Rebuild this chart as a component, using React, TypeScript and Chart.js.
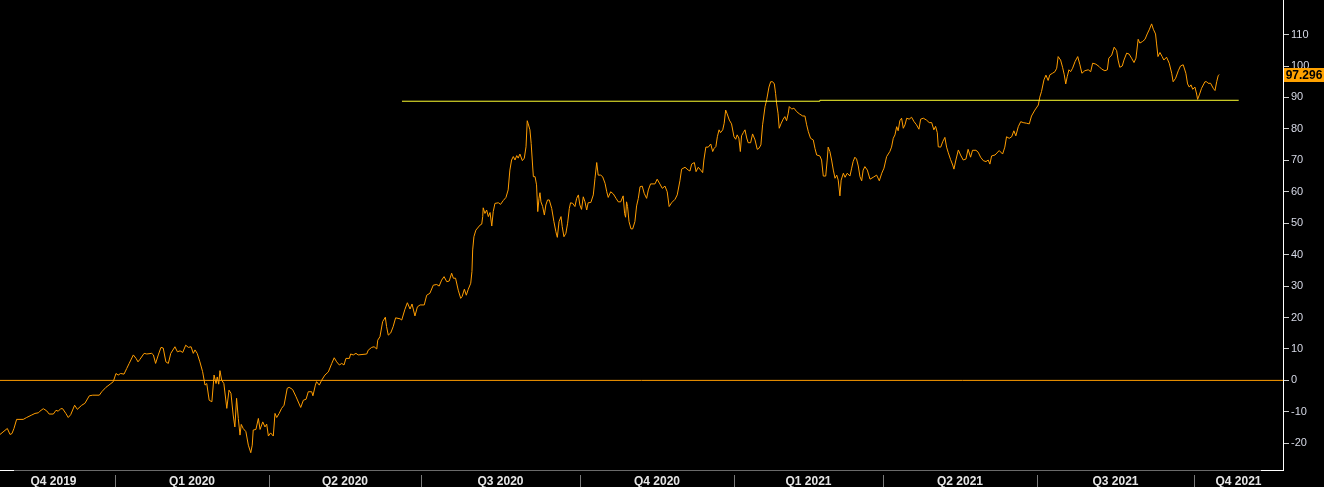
import React, { useEffect, useRef } from "react";
import { Chart, registerables } from "chart.js";

Chart.register(...registerables);

// Trading-day offset from the first observation (late Oct 2019)
const tradingDays = [
  0.0, 2.5, 3.0, 4.1, 4.9, 5.7, 6.8, 9.5, 10.9, 13.0, 14.3, 15.7, 16.3, 17.7, 19.1, 20.1, 21.8, 22.9, 23.8, 24.8,
  25.6, 26.9, 27.9, 28.9, 30.5, 31.6, 33.4, 34.7, 36.5, 37.9, 40.6, 41.6, 43.3, 45.0, 46.3, 47.4, 48.3, 49.3, 50.7, 51.8,
  52.8, 54.5, 55.6, 56.4, 57.2, 58.9, 60.0, 62.0, 62.7, 63.6, 64.7, 65.8, 66.7, 67.8, 68.8, 69.8, 71.5, 72.5, 73.6, 74.7,
  75.9, 77.0, 78.1, 79.0, 79.7, 80.6, 81.7, 82.8, 83.8, 84.5, 85.5, 86.6, 87.5, 88.3, 88.8, 89.4, 89.9, 90.6, 91.5, 92.7,
  93.6, 94.4, 95.3, 96.0, 96.7, 97.4, 98.1, 98.6, 99.4, 100.5, 101.5, 102.5, 103.1, 103.5, 104.6, 105.6, 106.3, 107.4, 108.3, 109.0,
  109.7, 110.6, 111.7, 112.4, 113.1, 114.1, 115.1, 116.1, 117.4, 118.2, 119.6, 121.0, 122.9, 124.0, 125.1, 126.0, 127.4, 127.9, 128.9, 129.4,
  130.5, 131.5, 132.8, 134.2, 135.6, 136.6, 137.6, 138.7, 139.7, 140.6, 141.4, 142.8, 143.3, 144.4, 145.5, 146.4, 149.9, 150.5, 151.9, 152.9,
  154.0, 154.4, 155.3, 156.4, 157.5, 158.0, 158.7, 159.7, 160.7, 161.7, 163.5, 164.2, 165.5, 166.5, 167.6, 168.4, 169.6, 170.6, 171.7, 173.4,
  174.4, 175.7, 177.1, 178.5, 179.5, 180.5, 181.5, 182.6, 183.6, 184.6, 185.3, 186.2, 187.3, 188.3, 188.9, 189.8, 190.6, 191.4, 192.4, 192.9,
  193.2, 193.7, 194.5, 196.2, 196.9, 197.3, 197.5, 198.2, 198.9, 199.6, 200.3, 201.0, 201.6, 202.3, 203.7, 204.6, 205.7, 206.8, 207.7, 208.4,
  209.1, 209.8, 210.5, 211.2, 211.8, 212.5, 213.5, 214.3, 215.0, 215.5, 215.9, 216.6, 217.1, 217.7, 218.0, 218.7, 219.3, 219.8, 220.3, 220.7,
  221.1, 221.8, 222.5, 223.1, 223.8, 224.5, 225.5, 226.4, 227.2, 227.8, 228.5, 229.3, 229.8, 230.5, 231.3, 232.0, 232.7, 233.2, 234.1, 235.0,
  235.7, 236.4, 237.0, 237.7, 238.4, 239.1, 239.8, 240.4, 241.5, 242.5, 243.2, 243.9, 244.5, 245.5, 246.3, 247.3, 248.0, 248.6, 249.6, 250.7,
  251.8, 252.7, 253.7, 254.7, 255.3, 255.7, 256.1, 256.5, 257.1, 257.9, 258.6, 259.5, 260.2, 260.9, 261.6, 262.5, 263.3, 264.3, 265.0, 265.9,
  267.7, 268.6, 269.7, 270.7, 271.8, 272.7, 273.5, 274.5, 275.9, 276.8, 277.9, 278.6, 280.0, 281.3, 282.0, 282.7, 283.8, 284.5, 285.4, 286.4,
  287.2, 287.7, 288.5, 289.5, 290.5, 291.3, 291.9, 292.6, 293.2, 293.9, 294.5, 295.4, 296.0, 296.6, 297.2, 298.1, 299.0, 300.0, 300.7, 301.3,
  302.0, 302.6, 303.1, 303.8, 304.5, 305.2, 305.8, 306.8, 307.6, 308.6, 309.5, 310.2, 311.0, 311.7, 312.7, 313.4, 314.3, 315.0, 315.8, 316.5,
  317.0, 317.4, 318.0, 318.5, 319.2, 320.1, 320.8, 321.5, 322.2, 322.6, 323.6, 324.5, 325.6, 326.7, 328.1, 329.0, 329.7, 330.4, 331.3, 332.4,
  333.1, 333.8, 335.1, 335.8, 336.5, 337.5, 338.1, 338.5, 339.2, 339.9, 340.6, 341.3, 342.0, 342.6, 343.3, 343.8, 344.7, 345.4, 346.3, 347.4,
  348.1, 348.7, 349.4, 350.1, 350.8, 351.5, 352.2, 352.8, 353.5, 354.5, 355.6, 356.9, 358.3, 359.4, 360.4, 361.3, 362.4, 363.7, 364.4, 365.1,
  365.8, 366.5, 367.1, 367.8, 368.5, 369.2, 369.9, 370.6, 371.6, 372.6, 373.6, 374.6, 375.6, 376.3, 377.4, 378.7, 379.8, 380.8, 381.7, 382.4,
  383.1, 383.5, 384.5, 385.3, 386.2, 386.9, 387.6, 388.5, 389.4, 389.9, 390.7, 391.7, 392.6, 393.7, 394.8, 395.7, 396.7, 397.5, 398.9, 399.8,
  400.8, 401.9, 403.0, 403.9, 404.6, 405.3, 406.7, 408.4, 409.8, 410.7, 411.4, 412.5, 413.5, 414.4, 415.2, 416.2, 417.2, 418.2, 419.6, 420.7,
  421.6, 423.0, 424.4, 425.0, 425.7, 426.7, 427.5, 428.4, 429.1, 430.2, 431.2, 431.9, 432.5, 433.5, 434.3, 435.0, 435.6, 436.2, 436.9, 437.6,
  438.4, 439.4, 440.5, 441.4, 442.2, 443.4, 444.8, 445.8, 446.6, 447.9, 449.3, 450.3, 451.6, 452.6, 453.2, 454.4, 455.4, 456.4, 457.0, 457.7,
  458.7, 459.4, 460.5, 461.5, 462.5, 463.5, 464.3, 465.2, 465.9, 467.0, 468.0, 468.9, 469.7, 470.7, 471.4, 472.3, 472.7, 473.3, 474.1, 475.0,
  475.7, 476.8, 477.9, 478.9, 479.5, 480.5, 481.6, 482.5, 483.6, 484.7, 485.4, 486.1, 486.8, 487.5, 488.4, 489.1, 489.5, 490.2, 491.1, 492.5,
  493.2, 493.8, 494.8, 495.9, 496.6, 497.3, 497.9, 498.3,
];

const indexValues = [
  -17.2, -15.6, -15.3, -17.2, -16.9, -15.3, -12.4, -12.4, -11.8, -11.0, -10.5, -10.3, -9.8, -9.0, -9.7, -10.7, -10.7, -9.5, -9.8, -9.0,
  -9.0, -10.5, -11.8, -10.9, -7.9, -9.2, -7.9, -7.3, -4.9, -4.7, -4.7, -3.6, -2.2, -1.2, -0.4, 2.2, 1.7, 2.2, 2.0, 3.8,
  5.4, 8.1, 7.0, 5.9, 6.7, 8.6, 8.4, 8.6, 8.1, 5.4, 8.1, 10.5, 10.3, 5.9, 5.4, 8.6, 10.7, 9.1, 9.4, 8.9,
  11.2, 10.5, 10.7, 8.6, 9.7, 8.6, 5.9, 2.8, -1.5, -1.0, -6.3, -6.8, 1.7, -1.0, 1.1, -1.2, 3.1, 0.1, -1.0, -8.9,
  -3.1, -4.1, -11.0, -14.8, -5.7, -12.1, -17.4, -14.0, -15.3, -16.3, -20.6, -23.0, -20.6, -15.8, -15.6, -12.1, -15.6, -13.2, -14.8, -13.9,
  -17.7, -16.7, -17.7, -10.5, -11.8, -10.5, -8.9, -7.9, -2.5, -2.2, -2.9, -5.2, -8.6, -6.3, -6.0, -3.6, -3.6, -4.9, -1.5, -0.4,
  -1.5, 0.1, 1.7, 2.7, 5.4, 7.2, 5.9, 4.9, 5.4, 4.9, 7.0, 7.0, 8.4, 8.1, 8.6, 8.1, 8.4, 9.6, 10.5, 10.7,
  10.0, 12.8, 13.9, 18.7, 20.1, 17.1, 14.4, 15.1, 17.1, 19.9, 19.6, 19.2, 22.6, 24.7, 22.7, 24.3, 20.5, 23.4, 24.0, 24.0,
  27.1, 27.7, 30.3, 30.5, 30.0, 31.9, 33.0, 31.4, 31.6, 34.1, 32.5, 32.5, 28.7, 26.1, 26.7, 29.0, 27.1, 29.0, 30.9, 34.6,
  41.5, 45.7, 47.8, 49.4, 49.7, 52.1, 54.9, 53.1, 54.2, 52.1, 53.4, 49.1, 53.7, 56.3, 56.5, 56.0, 57.2, 58.2, 60.6, 66.9,
  70.1, 71.2, 70.1, 71.5, 70.7, 72.0, 69.9, 70.7, 74.3, 82.6, 81.6, 79.7, 75.4, 68.2, 64.8, 64.8, 62.2, 53.7, 57.9, 59.7,
  56.8, 55.3, 52.6, 55.8, 57.4, 57.4, 54.7, 50.5, 47.3, 45.5, 50.5, 52.1, 48.9, 45.7, 46.8, 50.0, 54.7, 56.5, 56.3, 55.3,
  57.9, 59.0, 55.8, 54.4, 58.4, 56.8, 54.2, 56.5, 56.6, 59.0, 64.3, 69.3, 65.3, 65.3, 64.8, 62.7, 60.0, 58.2, 60.0, 59.3,
  57.9, 56.8, 56.8, 58.7, 53.1, 51.9, 56.8, 55.3, 50.5, 48.2, 48.2, 50.5, 55.5, 57.9, 61.6, 61.8, 59.5, 57.9, 60.6, 62.5,
  62.5, 64.0, 62.5, 61.1, 61.8, 60.0, 55.3, 56.5, 57.6, 59.0, 63.5, 67.2, 67.8, 66.9, 66.6, 68.8, 69.3, 66.4, 67.8, 66.9,
  66.1, 70.1, 74.2, 74.2, 75.2, 72.8, 73.8, 74.4, 77.5, 79.7, 78.8, 79.7, 81.8, 86.0, 84.8, 82.8, 81.6, 77.5, 76.7, 78.1,
  77.1, 72.8, 77.8, 78.8, 79.7, 77.1, 75.6, 75.6, 78.4, 76.5, 73.5, 73.8, 74.9, 81.3, 87.1, 89.4, 93.3, 95.0, 95.0, 94.3,
  91.3, 88.2, 85.0, 80.2, 81.6, 83.1, 83.9, 82.6, 85.0, 87.1, 86.3, 86.6, 85.5, 84.8, 84.1, 84.1, 81.3, 79.1, 77.0, 76.5,
  73.8, 71.7, 71.4, 70.1, 65.0, 65.0, 70.1, 74.2, 72.8, 70.1, 66.9, 64.3, 65.3, 63.7, 58.7, 63.7, 65.9, 64.6, 65.9, 65.0,
  67.5, 69.6, 71.0, 70.4, 68.2, 64.8, 63.5, 66.9, 68.0, 66.9, 64.0, 64.6, 65.3, 63.5, 65.9, 67.5, 71.2, 72.8, 74.2, 77.0,
  78.1, 80.7, 79.4, 82.6, 83.4, 80.2, 81.3, 83.4, 83.1, 83.7, 82.3, 81.3, 79.9, 83.1, 83.4, 82.8, 82.0, 82.0, 79.7, 80.8,
  78.8, 74.3, 74.2, 75.9, 77.3, 74.2, 72.4, 70.3, 68.5, 67.2, 70.1, 73.3, 71.7, 70.1, 70.4, 73.5, 71.0, 73.2, 73.2, 72.6,
  71.0, 69.9, 69.6, 70.1, 68.8, 71.4, 71.7, 73.1, 72.0, 74.2, 77.5, 77.0, 77.5, 79.4, 77.8, 80.7, 82.3, 82.0, 81.8, 81.6,
  84.1, 86.0, 87.6, 90.1, 91.9, 95.6, 97.1, 95.4, 97.2, 97.7, 98.2, 99.3, 103.0, 101.9, 99.6, 97.2, 94.3, 96.6, 98.8, 98.2,
  99.3, 101.4, 103.0, 100.4, 97.7, 98.5, 98.8, 98.2, 100.9, 100.6, 99.8, 99.0, 98.5, 98.8, 102.5, 103.5, 106.0, 104.9, 101.9, 99.6,
  100.0, 101.9, 104.1, 103.8, 102.5, 101.1, 102.5, 108.5, 107.3, 107.8, 108.5, 110.2, 111.5, 113.4, 111.7, 110.2, 107.3, 103.0, 104.3, 103.0,
  101.9, 102.8, 100.9, 97.7, 95.0, 96.1, 98.5, 100.0, 100.4, 97.7, 94.3, 93.3, 94.0, 92.6, 93.3, 91.1, 89.4, 90.8, 92.9, 95.0,
  95.0, 94.5, 94.5, 92.9, 92.2, 95.0, 96.9, 97.296,
];

const lastValue = 97.296;

// Horizontal resistance line (two drawn segments)
const resistanceDays = [164.3, 335.1, 335.1, 506.3];
const resistanceLevels = [88.8, 88.8, 89.1, 89.1];

// Zero reference line
const baselineDays = [0, 524.4];
const baselineValues = [0, 0];

const xMin = 0;
const xMax = 524.4;
const yMin = -28.5;
const yMax = 121;
const yTickValues = [-20, -10, 0, 10, 20, 30, 40, 50, 60, 70, 80, 90, 100, 110];

const quarterLabels = ["Q4 2019", "Q1 2020", "Q2 2020", "Q3 2020", "Q4 2020", "Q1 2021", "Q2 2021", "Q3 2021", "Q4 2021"];
const quarterStartDays = [47, 110, 172, 237, 300, 361, 424, 488];

const ORANGE = "#ff9d00";
const YELLOW = "#ffff30";

const overlayPlugin = {
  id: "overlay",
  beforeDraw(chart: any) {
    const { ctx, width, height } = chart;
    ctx.save();
    ctx.fillStyle = "#000000";
    ctx.fillRect(0, 0, width, height);
    ctx.restore();
  },
  afterDraw(chart: any) {
    const { ctx, chartArea, scales } = chart;
    const x = scales.x;
    const y = scales.y;
    const bottom = Math.round(chartArea.bottom);
    const right = Math.round(chartArea.right);
    ctx.save();
    // bottom axis line
    ctx.fillStyle = "#6a6a6a";
    ctx.fillRect(0, bottom, right, 1);
    ctx.fillStyle = "#ffffff";
    ctx.fillRect(0, bottom, 14, 1);
    ctx.fillRect(right - 22, bottom, 23, 1);
    ctx.fillRect(right, 0, 1, bottom + 1);

    // quarter separators
    const seps = quarterStartDays.map((d) => Math.round(x.getPixelForValue(d)));
    ctx.strokeStyle = "#7a7a7a";
    ctx.lineWidth = 1;
    seps.forEach((px) => {
      ctx.beginPath();
      ctx.moveTo(px + 0.5, bottom + 5);
      ctx.lineTo(px + 0.5, chart.height);
      ctx.stroke();
    });

    // quarter labels
    const bounds = [Math.round(x.left) - 8, ...seps, right];
    ctx.fillStyle = "#e6e6e6";
    ctx.font = "bold 12px 'Liberation Sans', Arial, sans-serif";
    ctx.textAlign = "center";
    ctx.textBaseline = "alphabetic";
    quarterLabels.forEach((lab, i) => {
      const cx = (bounds[i] + bounds[i + 1]) / 2;
      ctx.fillText(lab, cx, bottom + 15);
    });

    // last value tag
    const py = Math.round(y.getPixelForValue(lastValue));
    ctx.fillStyle = "#ffa200";
    ctx.fillRect(right + 1, py - 7, chart.width - right - 1, 14);
    ctx.fillStyle = "#000000";
    ctx.font = "bold 12px 'Liberation Sans', Arial, sans-serif";
    ctx.textAlign = "center";
    ctx.textBaseline = "middle";
    ctx.fillText(lastValue.toFixed(3), right + 1 + (chart.width - right - 1) / 2, py + 0.5);
    ctx.restore();
  },
};

export default function App() {
  const canvasRef = useRef<HTMLCanvasElement | null>(null);

  useEffect(() => {
    document.body.style.background = "#000";
    const canvas = canvasRef.current;
    if (!canvas) return;
    const seriesPoints = tradingDays.map((d, i) => ({ x: d, y: indexValues[i] }));
    const resistancePoints = resistanceDays.map((d, i) => ({ x: d, y: resistanceLevels[i] }));
    const baselinePoints = baselineDays.map((d, i) => ({ x: d, y: baselineValues[i] }));

    const chart = new Chart(canvas, {
      type: "line",
      data: {
        datasets: [
          {
            label: "Resistance",
            data: resistancePoints,
            borderColor: YELLOW,
            borderWidth: 1,
            pointRadius: 0,
            tension: 0,
          },
          {
            label: "Zero",
            data: baselinePoints,
            borderColor: ORANGE,
            borderWidth: 1,
            pointRadius: 0,
            tension: 0,
          },
          {
            label: "Index",
            data: seriesPoints,
            borderColor: ORANGE,
            borderWidth: 1,
            pointRadius: 0,
            tension: 0,
          },
        ],
      },
      options: {
        animation: false,
        responsive: false,
        maintainAspectRatio: false,
        devicePixelRatio: 1,
        layout: { padding: 0 },
        plugins: {
          legend: { display: false },
          tooltip: { enabled: false },
        },
        scales: {
          x: {
            type: "linear",
            min: xMin,
            max: xMax,
            display: true,
            ticks: { display: false },
            grid: { display: false },
            border: { display: false },
            afterFit: (s: any) => {
              s.height = 17;
              s.paddingLeft = 0;
              s.paddingRight = 0;
            },
          },
          y: {
            type: "linear",
            position: "right",
            min: yMin,
            max: yMax,
            afterBuildTicks: (s: any) => {
              s.ticks = yTickValues.map((v) => ({ value: v }));
            },
            afterFit: (s: any) => {
              s.width = 41;
              s.paddingTop = 0;
              s.paddingBottom = 0;
            },
            grid: {
              drawOnChartArea: false,
              drawTicks: true,
              tickLength: 6,
              color: "#cfcfcf",
            },
            border: { display: true, color: "#ffffff", width: 1 },
            ticks: {
              color: "#d6d9e6",
              padding: 2,
              font: { family: "'Liberation Sans', Arial, sans-serif", size: 11 },
              callback: (v: any) => String(v),
            },
          },
        },
      },
      plugins: [overlayPlugin],
    });
    return () => chart.destroy();
  }, []);

  return (
    <div style={{ position: "absolute", left: 0, top: 0, width: 1324, height: 487, background: "#000" }}>
      <canvas ref={canvasRef} width={1324} height={487} style={{ display: "block", width: 1324, height: 487 }} />
    </div>
  );
}
